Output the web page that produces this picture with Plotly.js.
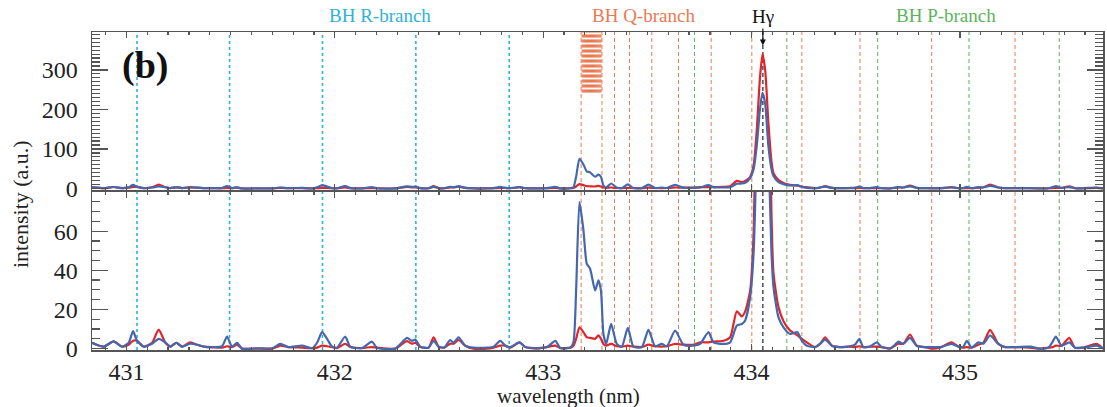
<!DOCTYPE html>
<html>
<head>
<meta charset="utf-8">
<script src="https://cdn.plot.ly/plotly-3.0.1.min.js"></script>
<style>html,body{margin:0;padding:0;background:#fff;}#chart{width:1107px;height:407px;}</style>
</head>
<body>
<div id="chart"></div>
<script>
// wavelength (nm)
const wavelength = [
430.835,430.891,430.939,430.979,431.011,431.032,431.051,431.083,431.123,431.155,
431.187,431.211,431.240,431.267,431.307,431.339,431.371,431.419,431.459,431.483,
431.507,431.531,431.555,431.627,431.699,431.739,431.778,431.843,431.891,431.915,
431.939,431.963,431.987,432.011,432.050,432.074,432.130,432.178,432.202,432.290,
432.346,432.370,432.386,432.410,432.450,432.474,432.498,432.525,432.554,432.570,
432.594,432.626,432.666,432.730,432.762,432.794,432.818,432.842,432.886,432.914,
432.970,433.018,433.058,433.082,433.130,433.145,433.158,433.174,433.193,433.209,
433.225,433.249,433.265,433.277,433.289,433.302,433.326,433.353,433.377,433.406,
433.433,433.473,433.505,433.537,433.569,433.593,433.633,433.673,433.721,433.753,
433.793,433.817,433.865,433.897,433.929,433.953,433.969,433.993,434.010,434.025,
434.040,434.052,434.065,434.080,434.095,434.105,434.129,434.153,434.185,434.220,
434.241,434.265,434.305,434.329,434.353,434.385,434.424,434.472,434.496,434.517,
434.536,434.568,434.600,434.624,434.664,434.688,434.704,434.728,434.760,434.792,
434.832,434.864,434.904,434.960,434.992,435.016,435.032,435.056,435.088,435.112,
435.144,435.184,435.216,435.272,435.336,435.384,435.424,435.444,435.460,435.487,
435.524,435.551,435.591,435.656,435.686
];
// red spectrum intensity (a.u.)
const redIntensity = [
3,1,3.7,1,2,4,4,1,3,9.7,
3,1,3,1,3.2,2,1,0.7,0.5,1.2,
0.8,2,0,0,0,1.5,0.8,0.5,0.2,0.5,
1.5,1.2,0.8,0.3,2.5,0.8,0.3,0.8,0.5,0,
3.8,2.5,3,0.8,0.5,5.8,1,0.5,2.5,2.5,
4.4,1.5,0,0,0.5,1.5,1.5,0.5,3.2,0.8,
0,0.8,1.5,0.3,0.5,1.5,5,10.9,8.4,5.8,
5.5,5,6.8,5,2.4,1.5,2.4,1.2,1,1.5,
1,0.8,2,1.2,1,1.2,2.4,2,2,3.2,
3.2,3.6,4,5.8,19.1,16.4,19,29.7,60,150,
280,340,300,170,70,38.4,21.2,14,9.2,6.8,
5,3.2,0.8,2.5,5.8,1.5,0.8,1,0.8,1.2,
0.8,1,1,0.8,0,1.5,2.5,2.5,7.2,1.5,
0.8,0,0.5,3.2,1,0.5,0.8,0.5,2,3,
9.6,2.4,0.8,0.8,0.5,0,0.5,0.8,1.5,1.5,
5.5,0.5,0.5,2.4,0
];
// blue spectrum intensity (a.u.)
const blueIntensity = [
3,1,3.7,1,3,8.9,4,1,2.5,5,
3.2,1,3,1,2.5,2,1,0.7,1.2,6.2,
1,3,0,0.2,0.2,2.4,0.8,1.5,0.2,3,
8.4,5,1,0.5,6.2,1,0.3,3.6,0.5,0,
5.5,4,4.6,1,0.5,4,1,0.5,4.4,3,
5.8,1.5,0.5,0.5,1,4,1.5,0.8,3.2,0.8,
0.3,0.8,4,0.3,0.5,3.2,30,75,60.5,43.4,
40.8,29.7,34.9,29.7,7.5,2.4,12.6,2.4,1,10.6,
1,0.8,9.6,1.2,2.4,1.2,9.2,2,1.5,2.4,
8.4,3.2,2.4,3.2,11.8,12.6,14.4,26.3,50,110,
200,242,215,110,50,31.4,16,10.9,7.5,8.4,
4,1.5,0.8,2.5,4.6,1.5,0.8,1.2,2,5,
0.8,1,3.2,0.8,0.2,2,3.6,2.5,5.5,1.5,
0.8,0.8,0.8,2.4,1,1,4,0.5,3.2,2.5,
6.7,2.4,0.8,0.8,1,0,0.5,3.5,6.2,1.5,
3.2,0.5,0.5,1.5,0.2
];
// line positions (nm)
const rBranch = [431.051, 431.495, 431.941, 432.389, 432.837];
const qBranch = [433.182, 433.282, 433.342, 433.414, 433.521, 433.649, 433.806, 434.001, 434.241, 434.520, 434.864, 435.264];
const qCluster = [433.187, 433.192, 433.197, 433.202, 433.207, 433.212, 433.217, 433.222, 433.227, 433.232,
                  433.237, 433.242, 433.247, 433.252, 433.257, 433.262, 433.267, 433.272, 433.277];
const pBranch = [433.726, 434.169, 434.605, 435.043, 435.476];
const hGamma = 434.054;
const xTickVals = [431, 432, 433, 434, 435];
const yTopTicks = [0, 100, 200, 300];
const yBotTicks = [0, 20, 40, 60];

const RED = '#e0262b', BLUE = '#4467ad';
const CYAN = '#2fb2d8', ORANGE = '#ea7a52', GREEN = '#5db35d';
const FONT = '"Liberation Serif", "Times New Roman", serif';

const lineStyle = c => ({color: c, width: 2.2, shape: 'spline', smoothing: 0.6});
const traces = [
  {x: wavelength, y: redIntensity, xaxis: 'x', yaxis: 'y', type: 'scatter', mode: 'lines', line: lineStyle(RED), hoverinfo: 'skip'},
  {x: wavelength, y: blueIntensity, xaxis: 'x', yaxis: 'y', type: 'scatter', mode: 'lines', line: lineStyle(BLUE), hoverinfo: 'skip'},
  {x: wavelength, y: redIntensity, xaxis: 'x2', yaxis: 'y2', type: 'scatter', mode: 'lines', line: lineStyle(RED), hoverinfo: 'skip'},
  {x: wavelength, y: blueIntensity, xaxis: 'x2', yaxis: 'y2', type: 'scatter', mode: 'lines', line: lineStyle(BLUE), hoverinfo: 'skip'}
];

const shapes = [];
function vline(x, color, dash, width, xref, yref, y0, y1) {
  shapes.push({type: 'line', xref: xref, yref: yref, x0: x, x1: x, y0: y0, y1: y1,
    layer: 'below', line: {color: color, dash: dash, width: width}});
}
rBranch.forEach(v => vline(v, CYAN, 'dot', 1.6, 'x', 'paper', 0, 1));
qBranch.forEach(v => vline(v, ORANGE, '4px,3px', 1, 'x', 'paper', 0, 1));
pBranch.forEach(v => vline(v, GREEN, '4px,3px', 1, 'x', 'paper', 0, 1));
qCluster.forEach(v => vline(v, ORANGE, '3px,2px', 1.3, 'x2', 'y2', 243, 396));
vline(hGamma, '#222', '4px,3px', 1.2, 'x', 'paper', 0, 1);

const axisCommon = {
  showgrid: false, zeroline: false, showline: true, linecolor: '#555', linewidth: 1.5,
  mirror: 'allticks', ticks: 'inside', tickcolor: '#555', tickwidth: 1.2,
  tickfont: {family: FONT, size: 24, color: '#222'}
};

const layout = {
  width: 1107, height: 407,
  margin: {l: 92, r: 4, t: 32, b: 57},
  paper_bgcolor: '#fff', plot_bgcolor: '#fff',
  showlegend: false,
  font: {family: FONT, color: '#222'},
  xaxis: Object.assign({}, axisCommon, {
    domain: [0, 1], anchor: 'y', range: [430.835, 435.686],
    tickvals: xTickVals, ticklen: 6, ticklabelstandoff: 0,
    minor: {dtick: 0.1, tick0: 431, ticklen: 3, ticks: 'inside', tickcolor: '#555', showgrid: false}
  }),
  yaxis: Object.assign({}, axisCommon, {
    domain: [0, 0.497], anchor: 'x', range: [-0.7, 80],
    tickvals: yBotTicks, ticklen: 16, ticklabelstandoff: 8,
    minor: {dtick: 5, tick0: 0, ticklen: 8, ticks: 'inside', tickcolor: '#555', showgrid: false}
  }),
  xaxis2: Object.assign({}, axisCommon, {
    domain: [0, 1], anchor: 'y2', range: [430.835, 435.686], matches: 'x',
    tickvals: xTickVals, ticklen: 6, showticklabels: false,
    minor: {dtick: 0.1, tick0: 431, ticklen: 3, ticks: 'inside', tickcolor: '#555', showgrid: false}
  }),
  yaxis2: Object.assign({}, axisCommon, {
    domain: [0.503, 1], anchor: 'x2', range: [-4, 396],
    tickvals: yTopTicks, ticklen: 16, ticklabelstandoff: 8,
    minor: {dtick: 10, tick0: 0, ticklen: 8, ticks: 'inside', tickcolor: '#555', showgrid: false}
  }),
  shapes: shapes,
  annotations: [
    {text: 'BH R-branch', xref: 'x', yref: 'paper', x: 432.218, y: 1, yshift: 17, yanchor: 'middle',
     showarrow: false, font: {family: FONT, size: 19, color: CYAN}},
    {text: 'BH Q-branch', xref: 'x', yref: 'paper', x: 433.480, y: 1, yshift: 17, yanchor: 'middle',
     showarrow: false, font: {family: FONT, size: 19, color: ORANGE}},
    {text: 'BH P-branch', xref: 'x', yref: 'paper', x: 434.933, y: 1, yshift: 17, yanchor: 'middle',
     showarrow: false, font: {family: FONT, size: 19, color: GREEN}},
    {text: 'Hγ', xref: 'x2', yref: 'y2', x: hGamma, y: 362, ax: 0, ay: -29,
     showarrow: true, arrowhead: 2, arrowsize: 1, arrowwidth: 1.2, arrowcolor: '#111',
     font: {family: FONT, size: 19, color: '#111'}},
    {text: '<b>(b)</b>', xref: 'x2', yref: 'y2', x: 431.09, y: 312, showarrow: false,
     font: {family: FONT, size: 38, color: '#111'}},
    {text: 'wavelength (nm)', xref: 'x', yref: 'paper', x: 433.12, y: 0, yshift: -46, yanchor: 'middle',
     xanchor: 'center', showarrow: false, font: {family: FONT, size: 21, color: '#222'}},
    {text: 'intensity (a.u.)', xref: 'paper', yref: 'paper', x: 0, xshift: -72, y: 0.459, textangle: -90,
     xanchor: 'center', yanchor: 'middle', showarrow: false, font: {family: FONT, size: 22, color: '#222'}}
  ]
};

Plotly.newPlot('chart', traces, layout, {staticPlot: true, displayModeBar: false});
</script>
</body>
</html>
